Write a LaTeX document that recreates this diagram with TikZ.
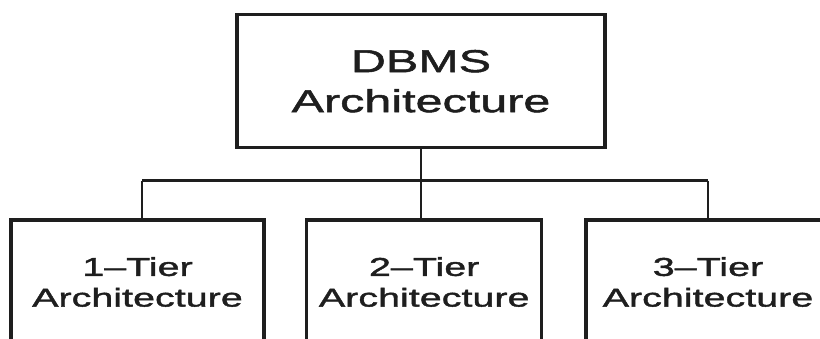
\documentclass[tikz,border=0pt]{standalone}
\usepackage{fontspec}
\newfontfamily\widefont[FakeStretch=1.53,FakeBold=1.6]{Liberation Sans}
\definecolor{ink}{HTML}{1E1E1E}
\begin{document}
\begin{tikzpicture}[x=1pt,y=-1pt,
  box/.style={draw=ink, line width=3.2pt, rectangle, inner sep=0pt, align=center, text=ink},
  topfont/.style={font=\widefont\fontsize{31.7}{40}\selectfont},
  tierfont/.style={font=\widefont\fontsize{25.8}{30.7}\selectfont},
  link/.style={draw=ink, line width=2.6pt}]
\useasboundingbox (0,0) rectangle (820,338);
\clip (0,0) rectangle (820,338);
\fill[white] (0,0) rectangle (820,338);
\node[box, topfont, minimum width=368pt, minimum height=133pt] (top) at (421,81.2) {DBMS\\Architecture};
\node[box, tierfont, minimum width=253pt, minimum height=124pt] (b1) at (137.5,282) {1–Tier\\Architecture};
\node[box, tierfont, minimum width=235pt, minimum height=124pt] (b2) at (424.2,282) {2–Tier\\Architecture};
\node[box, tierfont, minimum width=244pt, minimum height=124pt] (b3) at (708,282) {3–Tier\\Architecture};
\coordinate (j) at (421,180.5);
\coordinate (c1) at (142,180.5);
\coordinate (c3) at (708,180.5);
\draw[link] (top.south) -- (j);
\draw[link] (c1) -- (c3);
\draw[link] (c1) -- (c1 |- b1.north);
\draw[link] (j) -- (j |- b2.north);
\draw[link] (c3) -- (c3 |- b3.north);
\end{tikzpicture}
\end{document}
